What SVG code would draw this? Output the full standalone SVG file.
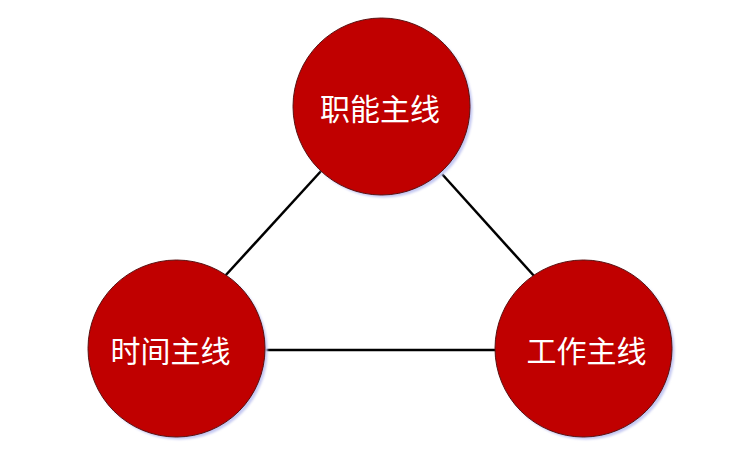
<svg xmlns="http://www.w3.org/2000/svg" width="738" height="466" viewBox="0 0 738 466">
<defs>
<filter id="sh" x="-20%" y="-20%" width="140%" height="140%">
<feGaussianBlur stdDeviation="1.2"/>
</filter>
</defs>
<style>
.shadow{fill:#c4c8f2;filter:url(#sh)}
.node{fill:#c00000;stroke:#5a1010;stroke-width:1}
.label{fill:#ffffff;font-family:"Noto Sans CJK SC","Microsoft YaHei",sans-serif;font-size:30px;text-anchor:middle;dominant-baseline:central}
.edge{stroke:#000;stroke-width:2.5;fill:none}
</style>
<rect width="738" height="466" fill="#ffffff"/>
<g id="connectors">
<line class="edge" x1="322" y1="170" x2="225" y2="276"/>
<line class="edge" x1="442" y1="174" x2="535" y2="277"/>
<line class="edge" x1="262" y1="350" x2="498" y2="350"/>
</g>
<g id="node-top">
<circle class="shadow" cx="384" cy="109" r="88.5"/>
<circle class="node" cx="381.5" cy="106.5" r="88.5"/>
<text class="label" x="380" y="107">职能主线</text>
</g>
<g id="node-left">
<circle class="shadow" cx="179" cy="351" r="88.5"/>
<circle class="node" cx="176.5" cy="348.5" r="88.5"/>
<text class="label" x="170.5" y="349">时间主线</text>
</g>
<g id="node-right">
<circle class="shadow" cx="586" cy="351" r="88.5"/>
<circle class="node" cx="583.5" cy="348.5" r="88.5"/>
<text class="label" x="586.5" y="349">工作主线</text>
</g>
</svg>
